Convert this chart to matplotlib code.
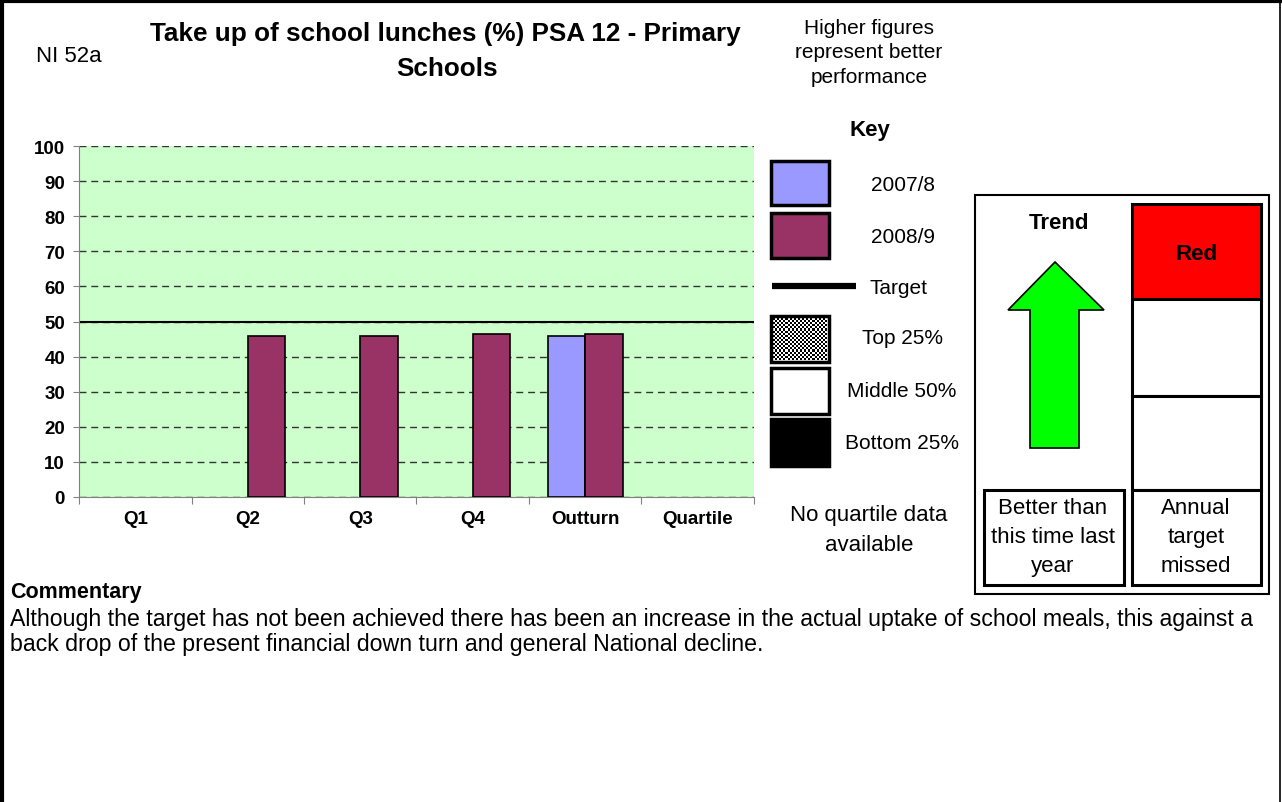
import numpy as np
import matplotlib
matplotlib.use("Agg")
import matplotlib.pyplot as plt
from matplotlib.patches import Rectangle, Polygon

plt.rcParams['font.family'] = ['Liberation Sans', 'DejaVu Sans']

# quarterly take-up of school lunches (%)
categories = ["Q1", "Q2", "Q3", "Q4", "Outturn", "Quartile"]
prev_year = [np.nan, np.nan, np.nan, np.nan, 45.9, np.nan]   # 2007/8
this_year = [np.nan, 45.9, 45.9, 46.4, 46.4, np.nan]         # 2008/9
target = 50
y_ticks = list(range(0, 101, 10))

key_labels = ["2007/8", "2008/9", "Target", "Top 25%", "Middle 50%", "Bottom 25%"]
commentary = ("Although the target has not been achieved there has been an increase in the actual uptake of school meals, this against a\n"
              "back drop of the present financial down turn and general National decline.")

W, H = 1282, 803
fig = plt.figure(figsize=(W / 100, H / 100), dpi=100)


def fbox(x0, y0, x1, y1):
    # pixel box (top-left origin) -> figure fraction rect
    return [x0 / W, 1 - y1 / H, (x1 - x0) / W, (y1 - y0) / H]


# ---- bar chart ----
ax = fig.add_axes(fbox(79, 147, 754, 498))
x = np.arange(len(categories))
w = 1 / 3
ax.bar(x - w / 2, prev_year, w, color="#9999FF", edgecolor="black", lw=1.2, zorder=3)
ax.bar(x + w / 2, this_year, w, color="#993366", edgecolor="black", lw=1.2, zorder=3)
ax.axhline(target, color="black", lw=1.5, zorder=2)
ax.set_facecolor("#CCFFCC")
ax.set_xlim(-0.5, len(categories) - 0.5)
ax.set_ylim(0, 100)
ax.set_yticks(y_ticks)
ax.set_yticklabels([str(t) for t in y_ticks], fontsize=13.5, fontweight="bold")
ax.yaxis.grid(True, ls=(0, (5, 3.5)), color="#333333", lw=1)
ax.set_axisbelow(True)
ax.set_xticks(np.arange(len(categories) + 1) - 0.5)
ax.set_xticklabels([])
ax.set_xticks(x, minor=True)
ax.set_xticklabels(categories, minor=True, fontsize=13.5, fontweight="bold")
ax.tick_params(axis="x", which="major", direction="out", length=5, color="#808080")
ax.tick_params(axis="x", which="minor", length=0, pad=9)
ax.tick_params(axis="y", direction="out", length=4, color="#808080", pad=6)
for side in ("top", "right"):
    ax.spines[side].set_visible(False)
for side in ("left", "bottom"):
    ax.spines[side].set_color("#808080")

# ---- page overlay in pixel coordinates ----
ov = fig.add_axes([0, 0, 1, 1])
ov.axis("off")

# page border
ov.plot([1.5, 1.5], [0, H], color="black", lw=3)
ov.plot([0, W], [2, 2], color="black", lw=3)
ov.plot([1280, 1280], [0, H], color="black", lw=1.2)

ov.text(36, 62, "NI 52a", fontsize=16, ha="left", va="baseline")
ov.text(445, 41, "Take up of school lunches (%) PSA 12 - Primary", fontsize=18.8, fontweight="bold",
        ha="center", va="baseline")
ov.text(447, 76, "Schools", fontsize=18.8, fontweight="bold", ha="center", va="baseline")
for txt, yb in zip(["Higher figures", "represent better", "performance"], [34, 58.5, 83]):
    ov.text(869, yb, txt, fontsize=15, ha="center", va="baseline")

# key
ov.text(870, 136, "Key", fontsize=16, fontweight="bold", ha="center", va="baseline")
ov.add_patch(Rectangle((771, 162), 58, 44, fc="#9999FF", ec="black", lw=2.5))
ov.add_patch(Rectangle((771, 214), 58, 45, fc="#993366", ec="black", lw=2.5))
ov.plot([772, 856], [287, 287], color="black", lw=4.5, solid_capstyle="butt")
board = np.indices((20, 26)).sum(axis=0) % 2
ov.imshow(board, cmap="gray", extent=(773, 827, 361, 319), interpolation="nearest", aspect="auto")
ov.add_patch(Rectangle((771, 317), 58, 46, fc="none", ec="black", lw=2.5))
ov.add_patch(Rectangle((771, 369), 58, 46, fc="white", ec="black", lw=2.5))
ov.add_patch(Rectangle((771, 420), 58, 47, fc="black", ec="black", lw=2.5))
for txt, xc, yb in zip(key_labels, [903, 903, 899, 902, 902, 902], [191, 243, 294, 344, 397, 449]):
    ov.text(xc, yb, txt, fontsize=15, ha="center", va="baseline")
ov.text(869, 521, "No quartile data", fontsize=16, ha="center", va="baseline")
ov.text(869, 551, "available", fontsize=16, ha="center", va="baseline")

# trend / RAG panel
ov.add_patch(Rectangle((975, 196), 294, 399, fc="white", ec="black", lw=1.5))
ov.add_patch(Rectangle((1132, 205), 129, 95, fc="#FF0000", ec="black", lw=2.2))
ov.add_patch(Rectangle((1132, 300), 129, 97, fc="white", ec="black", lw=2.2))
ov.add_patch(Rectangle((1132, 397), 129, 94, fc="white", ec="black", lw=2.2))
ov.add_patch(Rectangle((1132, 491), 129, 95, fc="white", ec="black", lw=2.2))
ov.add_patch(Rectangle((984, 491), 140, 95, fc="white", ec="black", lw=2.2))
ov.add_patch(Polygon([(1055, 263), (1104, 311), (1079, 311), (1079, 449),
                      (1030, 449), (1030, 311), (1008, 311)],
                     closed=True, fc="#00FF00", ec="black", lw=1.2))
ov.text(1059, 229, "Trend", fontsize=16, fontweight="bold", ha="center", va="baseline")
ov.text(1197, 260, "Red", fontsize=16, fontweight="bold", ha="center", va="baseline")
for txt, yb in zip(["Better than", "this time last", "year"], [514, 543, 572]):
    ov.text(1053, yb, txt, fontsize=16, ha="center", va="baseline")
for txt, yb in zip(["Annual", "target", "missed"], [514, 543, 572]):
    ov.text(1196, yb, txt, fontsize=16, ha="center", va="baseline")

# commentary
ov.text(10, 598, "Commentary", fontsize=15.5, fontweight="bold", ha="left", va="baseline")
for line, yb in zip(commentary.split("\n"), [626, 651]):
    ov.text(10, yb, line, fontsize=16.7, ha="left", va="baseline")

ov.set_xlim(0, W)
ov.set_ylim(H, 0)

fig.savefig("out.png", dpi=100)
